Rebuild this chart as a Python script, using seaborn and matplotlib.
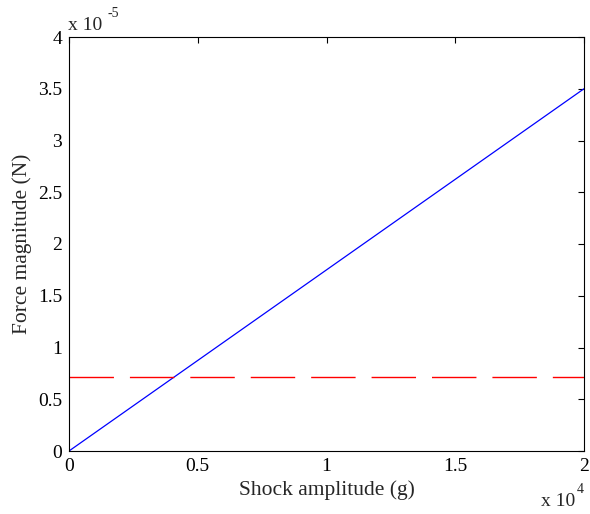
import matplotlib
matplotlib.use("Agg")
import matplotlib.pyplot as plt
from matplotlib.ticker import FuncFormatter, FixedLocator
import seaborn as sns
import pandas as pd

# Data
shock_amplitude = [0, 20000]           # g
force_magnitude = [0.0, 3.5e-5]        # N
threshold_force = 0.715e-5             # N
x_ticks = [0, 5000, 10000, 15000, 20000]
y_ticks = [0, 0.5e-5, 1e-5, 1.5e-5, 2e-5, 2.5e-5, 3e-5, 3.5e-5, 4e-5]

sns.set_style("white")
plt.rcParams['font.family'] = ['Liberation Serif', 'DejaVu Serif']
plt.rcParams['lines.scale_dashes'] = False

W, H = 590, 514
fig = plt.figure(figsize=(W/100, H/100), dpi=100)
ax = fig.add_axes([69/W, 1 - 451/H, (584-69)/W, (451-37)/H])

df = pd.DataFrame({"x": shock_amplitude, "y": force_magnitude})
sns.lineplot(data=df, x="x", y="y", ax=ax, color="#0000ff", linewidth=0.9)
ax.axhline(threshold_force, color="#ff0000", linewidth=1.0, dashes=(32, 11.5))

ax.set_xlim(0, 20000)
ax.set_ylim(0, 4e-5)
ax.xaxis.set_major_locator(FixedLocator(x_ticks))
ax.yaxis.set_major_locator(FixedLocator(y_ticks))
ax.xaxis.set_major_formatter(FuncFormatter(lambda v, p: f"{v/1e4:g}"))
ax.yaxis.set_major_formatter(FuncFormatter(lambda v, p: f"{v/1e-5:g}"))

ax.tick_params(direction="in", length=4, width=0.8, top=True, right=True,
               labelsize=14, colors="black", pad=5)
for s in ax.spines.values():
    s.set_visible(True)
    s.set_color("black")
    s.set_linewidth(0.8)

ax.set_xlabel("Shock amplitude (g)", fontsize=15.5, labelpad=4)
ax.set_ylabel("Force magnitude (N)", fontsize=15.5, labelpad=4)

# exponent labels (MATLAB style), placed in figure pixel coordinates
fig.text(68/W, 1 - 30/H, "x 10", fontsize=14, ha="left", va="baseline")
fig.text(108/W, 1 - 17/H, "-5", fontsize=10, ha="left", va="baseline")
fig.text(575/W, 1 - 506/H, "x 10", fontsize=14, ha="right", va="baseline")
fig.text(577/W, 1 - 493/H, "4", fontsize=10, ha="left", va="baseline")

fig.savefig("out.png", dpi=100, facecolor="white")
